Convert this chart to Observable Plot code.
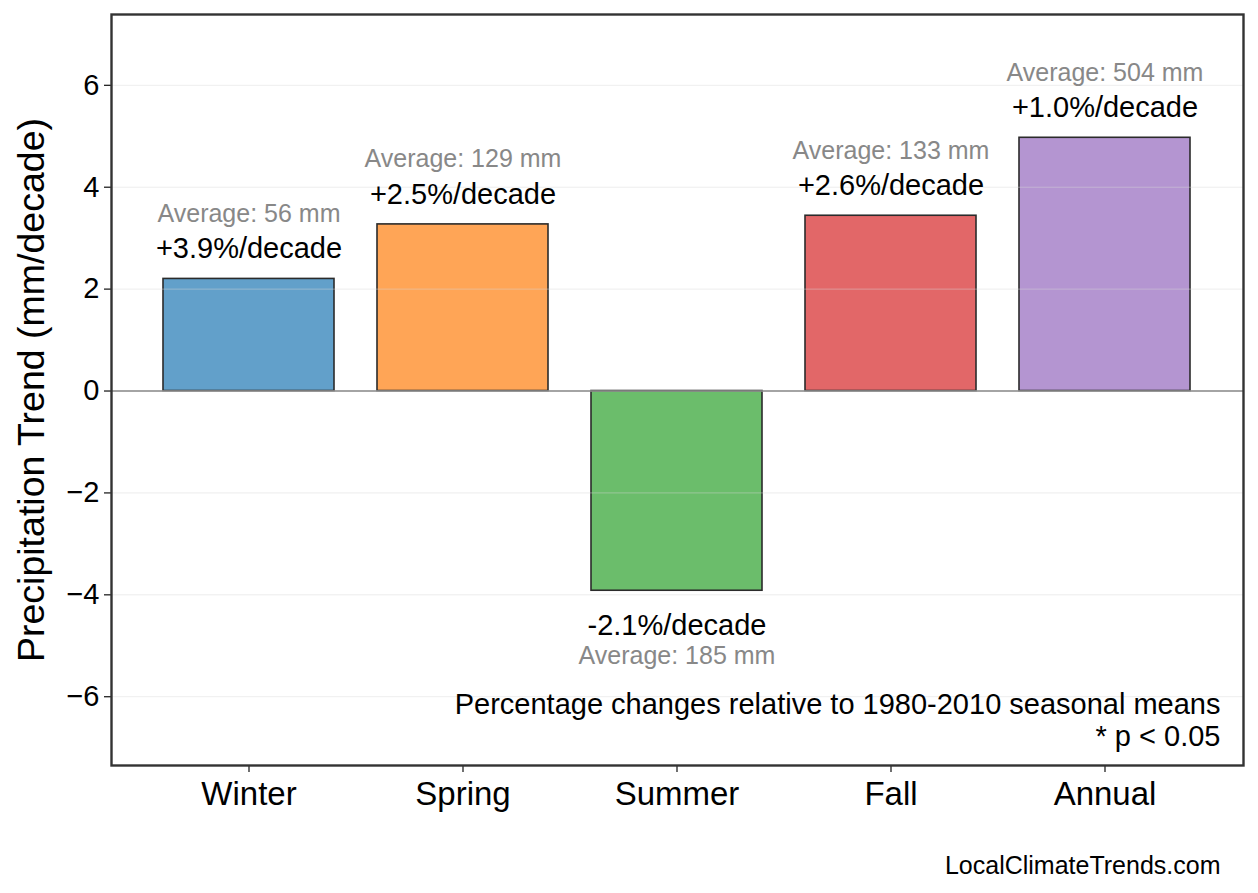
<!DOCTYPE html>
<html>
<head>
<meta charset="utf-8">
<script src="https://cdn.jsdelivr.net/npm/d3@7"></script>
<script src="https://cdn.jsdelivr.net/npm/@observablehq/plot@0.6"></script>
<style>
  html, body { margin: 0; padding: 0; background: #fff; }
  #chart svg { display: block; }
</style>
</head>
<body>
<div id="chart"></div>
<script>
const seasons = ["Winter", "Spring", "Summer", "Fall", "Annual"];
const trends = [2.2, 3.27, -3.92, 3.44, 4.97];
const pctLabels = ["+3.9%/decade", "+2.5%/decade", "-2.1%/decade", "+2.6%/decade", "+1.0%/decade"];
const averages = [56, 129, 185, 133, 504];
const colors = ["#62a0ca", "#ffa556", "#6bbd6b", "#e26768", "#b495d1"];
const yTicks = [-6, -4, -2, 0, 2, 4, 6];
const yDomain = [-7.35, 7.39];
const yLabel = "Precipitation Trend (mm/decade)";
const noteLines = ["Percentage changes relative to 1980-2010 seasonal means", "* p < 0.05"];
const credit = "LocalClimateTrends.com";

const data = seasons.map((s, i) => ({
  season: s, trend: trends[i], pct: pctLabels[i],
  avg: `Average: ${averages[i]} mm`, color: colors[i]
}));
const pos = data.filter(d => d.trend >= 0);
const neg = data.filter(d => d.trend < 0);

const font = "Liberation Sans, Arial, Helvetica, sans-serif";

const chart = Plot.plot({
  width: 1258,
  height: 893,
  marginTop: 14,
  marginRight: 15,
  marginBottom: 128,
  marginLeft: 111,
  style: { fontFamily: font, background: "#fff", color: "#000" },
  x: { domain: seasons, paddingInner: 0.2, paddingOuter: 0.24, label: null },
  y: { domain: yDomain, label: null },
  marks: [
    Plot.barY(data, {
      x: "season", y: "trend", fill: "color",
      stroke: "#2b2b2b", strokeWidth: 1.6
    }),
    Plot.gridY(yTicks, { stroke: "#d8d8d8", strokeOpacity: 0.45, strokeWidth: 1 }),
    Plot.ruleY([0], { stroke: "#888", strokeWidth: 1.5 }),
    Plot.text(pos, { x: "season", y: "trend", text: "pct", dy: -30, fontSize: 29, fill: "#000", lineAnchor: "middle" }),
    Plot.text(pos, { x: "season", y: "trend", text: "avg", dy: -65, fontSize: 25, fill: "#888", lineAnchor: "middle" }),
    Plot.text(neg, { x: "season", y: "trend", text: "pct", dy: 35, fontSize: 29, fill: "#000", lineAnchor: "middle" }),
    Plot.text(neg, { x: "season", y: "trend", text: "avg", dy: 65, fontSize: 25, fill: "#888", lineAnchor: "middle" }),
    Plot.text([noteLines[0]], { frameAnchor: "bottom-right", dx: -23, dy: -61, fontSize: 29, fill: "#000", lineAnchor: "middle", textAnchor: "end" }),
    Plot.text([noteLines[1]], { frameAnchor: "bottom-right", dx: -23, dy: -29, fontSize: 29, fill: "#000", lineAnchor: "middle", textAnchor: "end" }),
    Plot.text([credit], { frameAnchor: "bottom-right", dx: -23, dy: 100, fontSize: 25, fill: "#000", lineAnchor: "middle", textAnchor: "end" }),
    Plot.text([yLabel], { frameAnchor: "left", dx: -80, dy: 0, rotate: -90, fontSize: 37.5, fill: "#000", lineAnchor: "middle", textAnchor: "middle" }),
    Plot.axisY({ ticks: yTicks, tickSize: 7, tickPadding: 5, fontSize: 29, label: null, stroke: "#222", strokeWidth: 1.3 }),
    Plot.axisX({ tickSize: 7, tickPadding: 9, fontSize: 33, label: null, stroke: "#222", strokeWidth: 1.3 }),
    Plot.frame({ stroke: "#333", strokeWidth: 2.4 })
  ]
});
document.getElementById("chart").appendChild(chart);
</script>
</body>
</html>
